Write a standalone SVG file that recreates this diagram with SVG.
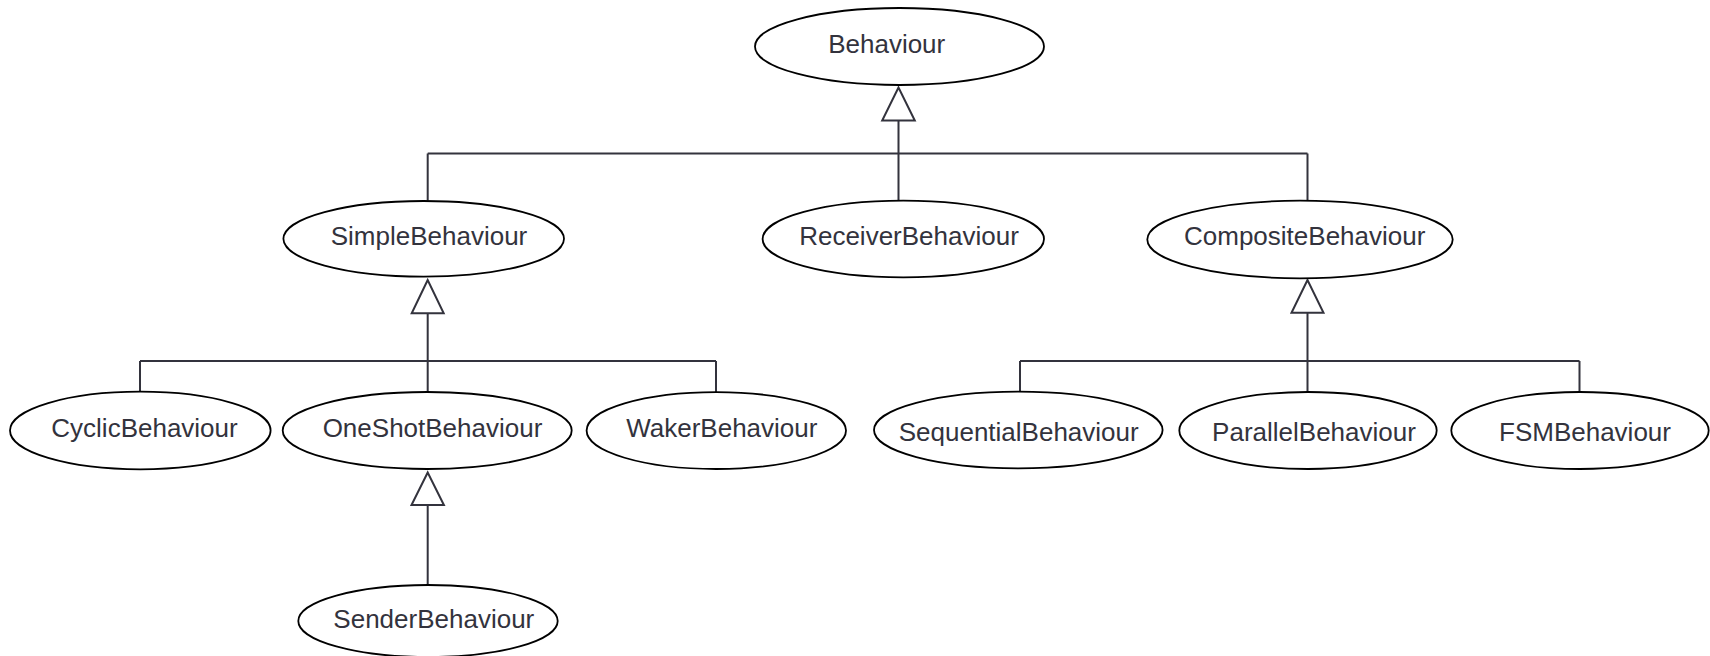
<svg xmlns="http://www.w3.org/2000/svg" width="1710" height="656" viewBox="0 0 1710 656">
<style>
.n ellipse{fill:#ffffff;stroke:#000000;stroke-width:1.8}
.n text{font-family:"Liberation Sans",Arial,sans-serif;font-size:26px;fill:#33333d;text-anchor:middle}
.c path{fill:none;stroke:#33333d;stroke-width:2}
.c polygon{fill:#ffffff;stroke:#33333d;stroke-width:2}
</style>
<rect width="1710" height="656" fill="#ffffff"/>
<g class="c" id="connectors">
<path d="M898.5 120.5 V200.7 M427.7 153.5 H1307.5 M427.7 153.5 V200.5 M1307.5 153.5 V200.7"/>
<polygon points="898.5,87.5 882.2,120.5 914.8,120.5"/>
<path d="M427.7 313.3 V392 M140 361 H716 M140 361 V392 M716 361 V392"/>
<polygon points="427.7,280 411.7,313.3 443.7,313.3"/>
<path d="M427.7 505 V585"/>
<polygon points="427.7,472.5 411.5,505 443.9,505"/>
<path d="M1307.5 312.7 V392 M1020 361 H1579.5 M1020 361 V392 M1579.5 361 V392"/>
<polygon points="1307.5,280 1291.5,312.7 1323.5,312.7"/>
</g>
<g class="n" id="behaviour"><ellipse cx="899.5" cy="46.5" rx="144.5" ry="38.5"/><text x="886.7" y="53.3">Behaviour</text></g>
<g class="n" id="simple"><ellipse cx="423.7" cy="238.8" rx="140.3" ry="37.8"/><text x="429" y="245">SimpleBehaviour</text></g>
<g class="n" id="receiver"><ellipse cx="903.3" cy="239" rx="140.7" ry="38.3"/><text x="909" y="245">ReceiverBehaviour</text></g>
<g class="n" id="composite"><ellipse cx="1300" cy="239.5" rx="152.7" ry="38.8"/><text x="1304.7" y="245">CompositeBehaviour</text></g>
<g class="n" id="cyclic"><ellipse cx="140.3" cy="430.5" rx="130.3" ry="38.8"/><text x="144.5" y="436.7">CyclicBehaviour</text></g>
<g class="n" id="oneshot"><ellipse cx="427.2" cy="430.5" rx="144.5" ry="38.5"/><text x="432.5" y="436.7">OneShotBehaviour</text></g>
<g class="n" id="waker"><ellipse cx="716.3" cy="430.6" rx="129.7" ry="38.4"/><text x="721.8" y="436.7">WakerBehaviour</text></g>
<g class="n" id="sequential"><ellipse cx="1018.3" cy="430" rx="144.3" ry="38.3"/><text x="1018.7" y="440.5">SequentialBehaviour</text></g>
<g class="n" id="parallel"><ellipse cx="1308" cy="430.5" rx="128.7" ry="38.5"/><text x="1314" y="440.5">ParallelBehaviour</text></g>
<g class="n" id="fsm"><ellipse cx="1580" cy="430.5" rx="128.7" ry="38.5"/><text x="1585" y="440.5">FSMBehaviour</text></g>
<g class="n" id="sender"><ellipse cx="428" cy="621" rx="129.7" ry="36"/><text x="433.8" y="628">SenderBehaviour</text></g>
</svg>
